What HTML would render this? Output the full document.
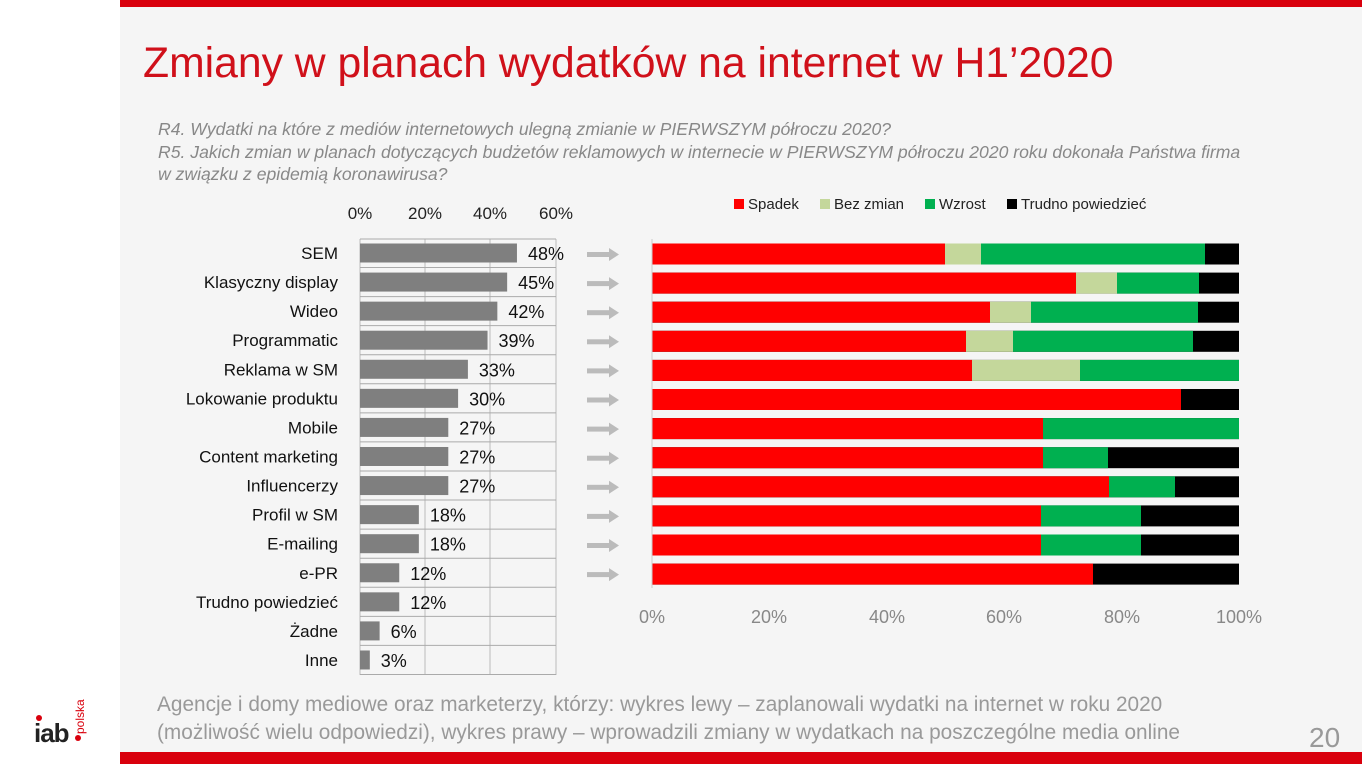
<!DOCTYPE html>
<html><head><meta charset="utf-8"><style>
body{margin:0;width:1362px;height:764px;overflow:hidden;background:#fff;font-family:"Liberation Sans",sans-serif}
</style></head><body>
<svg width="1362" height="764" xmlns="http://www.w3.org/2000/svg" font-family="Liberation Sans, sans-serif">
<rect x="120" y="0" width="1242" height="764" fill="#f5f5f5"/>
<rect x="120" y="0" width="1242" height="7" fill="#d9000d"/>
<rect x="120" y="752" width="1242" height="12" fill="#d9000d"/>
<text x="143" y="77" font-size="42.7" fill="#d0101a">Zmiany w planach wydatków na internet w H1’2020</text>
<g font-size="17.6" font-style="italic" fill="#888">
<text x="158" y="135">R4. Wydatki na które z mediów internetowych ulegną zmianie w PIERWSZYM półroczu 2020?</text>
<text x="158" y="158">R5. Jakich zmian w planach dotyczących budżetów reklamowych w internecie w PIERWSZYM półroczu 2020 roku dokonała Państwa firma</text>
<text x="158" y="180">w związku z epidemią koronawirusa?</text>
</g>
<g font-size="17" fill="#222" text-anchor="middle">
<text x="360" y="219">0%</text><text x="425" y="219">20%</text><text x="490" y="219">40%</text><text x="556" y="219">60%</text>
</g>
<g stroke="#bbb" stroke-width="1">
<line x1="360" y1="239" x2="360" y2="675"/><line x1="425" y1="239" x2="425" y2="675"/><line x1="490" y1="239" x2="490" y2="675"/><line x1="556" y1="239" x2="556" y2="675"/>
</g>
<g id="left" font-size="17" fill="#111"></g>
<g id="right"></g>
<g font-size="18" fill="#888" text-anchor="middle">
<text x="652" y="623">0%</text><text x="769" y="623">20%</text><text x="887" y="623">40%</text><text x="1004" y="623">60%</text><text x="1122" y="623">80%</text><text x="1239" y="623">100%</text>
</g>
<line x1="652" y1="239" x2="652" y2="588" stroke="#ccc"/>
<g font-size="15" fill="#222">
<rect x="734" y="199" width="10" height="10" fill="#f00"/><text x="748" y="209">Spadek</text>
<rect x="820" y="199" width="10" height="10" fill="#c4d79b"/><text x="834" y="209">Bez zmian</text>
<rect x="925" y="199" width="10" height="10" fill="#00b050"/><text x="939" y="209">Wzrost</text>
<rect x="1007" y="199" width="10" height="10" fill="#000"/><text x="1021" y="209">Trudno powiedzieć</text>
</g>
<g font-size="20.8" fill="#999">
<text x="157" y="711">Agencje i domy mediowe oraz marketerzy, którzy: wykres lewy – zaplanowali wydatki na internet w roku 2020</text>
<text x="157" y="739">(możliwość wielu odpowiedzi), wykres prawy – wprowadzili zmiany w wydatkach na poszczególne media online</text>
</g>
<text x="1309" y="747" font-size="28" fill="#999">20</text>
<text x="34" y="742" font-size="26" font-weight="bold" fill="#222" letter-spacing="-1">iab</text>
<circle cx="39" cy="718" r="3" fill="#d9000d"/>
<circle cx="78" cy="738" r="3" fill="#d9000d"/>
<text transform="translate(84,734) rotate(-90)" font-size="12" fill="#d9000d">polska</text>
</svg>
<script>
const L=[["SEM",48],["Klasyczny display",45],["Wideo",42],["Programmatic ",39],["Reklama w SM",33],["Lokowanie produktu",30],["Mobile",27],["Content marketing",27],["Influencerzy",27],["Profil w SM",18],["E-mailing",18],["e-PR",12],["Trudno powiedzieć",12],["Żadne",6],["Inne",3]];
const ns="http://www.w3.org/2000/svg";
function el(p,t,a,txt){const e=document.createElementNS(ns,t);for(const k in a)e.setAttribute(k,a[k]);if(txt!=null)e.textContent=txt;p.appendChild(e);return e;}
const g=document.getElementById('left');
L.forEach((r,i)=>{const c=253+i*29.07;const w=r[1]*3.27;
el(g,'text',{x:338,y:c+6,'text-anchor':'end'},r[0]);
el(g,'rect',{x:360,y:c-9.5,width:w,height:19,fill:'#7f7f7f'});
el(g,'text',{x:360+w+11,y:c+7,'font-size':18},r[1]+'%');
el(g,'line',{x1:360,x2:556,y1:c+14.5,y2:c+14.5,stroke:'#aaa'});
});
el(g,'line',{x1:360,x2:556,y1:239,y2:239,stroke:'#aaa'});
const R=[[945,981,1205],[1076,1117,1199],[990,1031,1198],[966,1013,1193],[972,1080,1239],[1181,1181,1181],[1043,1043,1239],[1043,1043,1108],[1109,1109,1175],[1041,1041,1141],[1041,1041,1141],[1093,1093,1093]];
const h=document.getElementById('right');
R.forEach((r,i)=>{const c=254+i*29.1,y=c-10.5;
el(h,'rect',{x:652,y:y,width:587,height:21,fill:'#000'});
el(h,'rect',{x:r[1],y:y,width:r[2]-r[1],height:21,fill:'#00b050'});
el(h,'rect',{x:r[0],y:y,width:r[1]-r[0],height:21,fill:'#c4d79b'});
el(h,'rect',{x:652,y:y,width:r[0]-652,height:21,fill:'#f00'});
el(h,'rect',{x:587,y:c-2,width:24,height:5,fill:'#bbb'});
el(h,'polygon',{points:`${609},${c-6} ${619},${c+0.5} ${609},${c+7}`,fill:'#bbb'});
});
</script>
</body></html>
